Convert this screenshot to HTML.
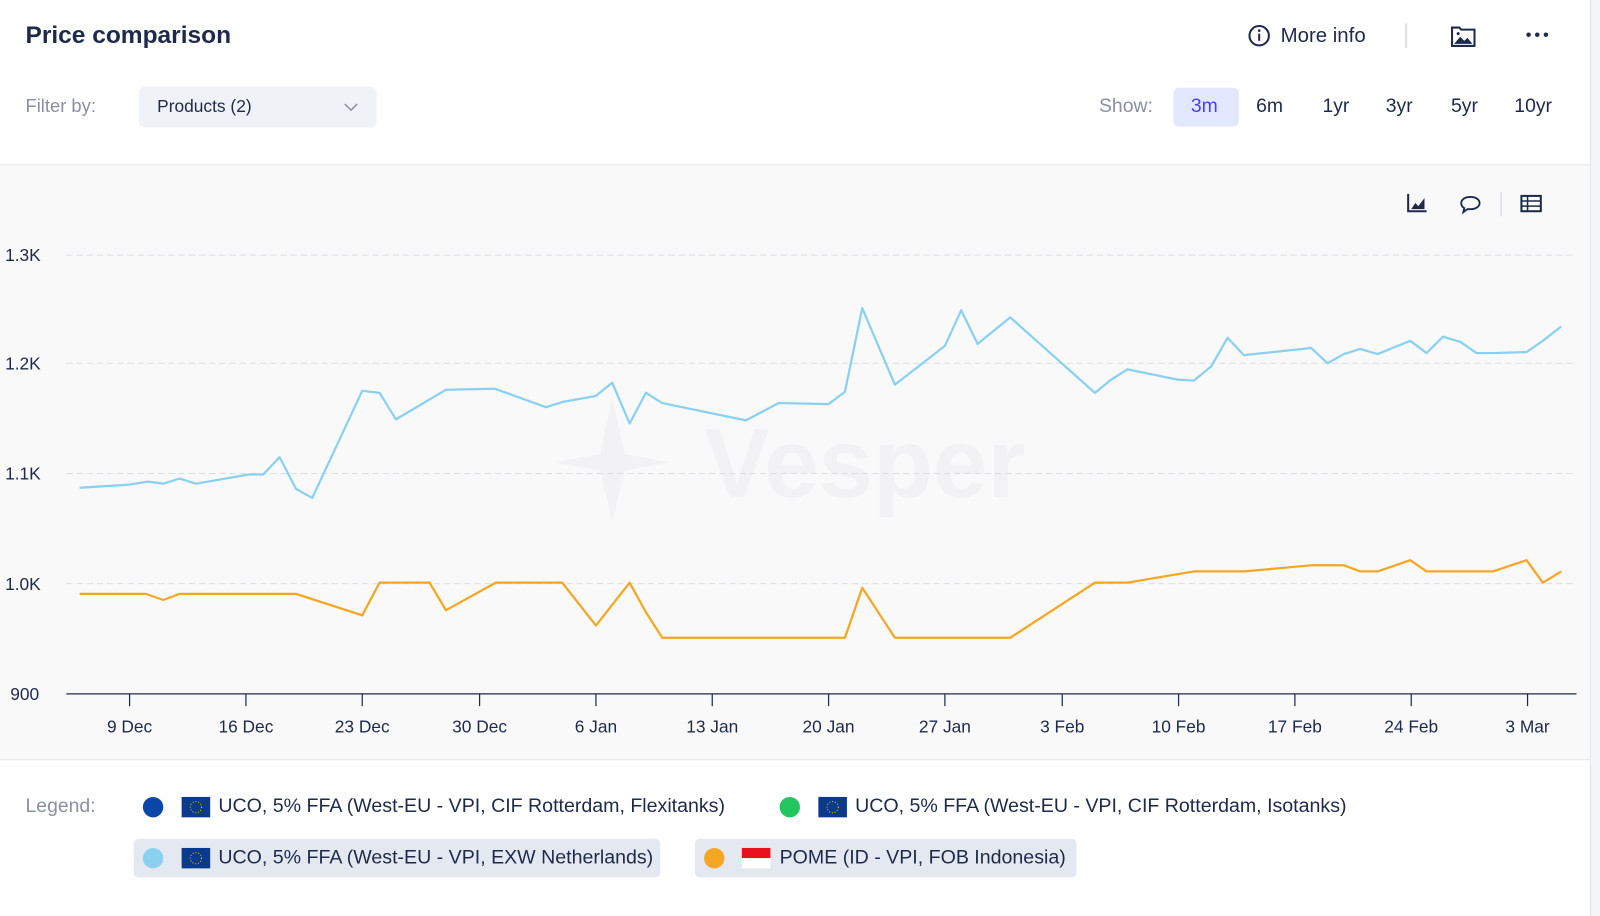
<!DOCTYPE html>
<html><head><meta charset="utf-8"><style>
*{margin:0;padding:0;box-sizing:border-box}
body{width:1600px;height:898px;background:#fff;font-family:"Liberation Sans",sans-serif;overflow:hidden;color:#1e2a4a}
#w{position:absolute;left:0;top:0;width:1568px;height:880px;transform:scale(1.020408);transform-origin:0 0}
.a{position:absolute;white-space:nowrap}
.lg{font-size:19.2px}
</style></head><body><div id="w">
<div class="a" style="left:1558px;top:0;width:42px;height:898px;background:#f4f5f7;border-left:1px solid #e3e5ea"></div>
<div class="a" style="left:25px;top:21px;font-size:24px;font-weight:bold;color:#1e2a4a">Price comparison</div>
<div class="a" style="left:25px;top:94px;font-size:18px;color:#8a90a4">Filter by:</div>
<div class="a" style="left:136px;top:85px;width:233px;height:40px;background:#eff2f7;border-radius:6px"></div>
<div class="a" style="left:154px;top:95px;font-size:17px;color:#1e2a4a">Products (2)</div>
<svg class="a" style="left:336px;top:99px" width="16" height="12"><path d="M2 3l6 6 6-6" fill="none" stroke="#8a90a4" stroke-width="1.5"/></svg>
<svg class="a" style="left:1222px;top:23px" width="24" height="24"><circle cx="12" cy="12" r="9.5" fill="none" stroke="#1e2a4a" stroke-width="2"/><rect x="11" y="10" width="2" height="7" fill="#1e2a4a"/><circle cx="12" cy="7" r="1.3" fill="#1e2a4a"/></svg>
<div class="a" style="left:1255px;top:24px;font-size:20px;color:#1e2a4a">More info</div>
<div class="a" style="left:1377px;top:23px;width:2px;height:24px;background:#dcdfe5"></div>
<svg class="a" style="left:1421px;top:23px" width="26" height="24"><path d="M2 4h7l2 2h13v16H2z" fill="none" stroke="#1e2a4a" stroke-width="2"/><path d="M4 20l6-7 4 4 3-3 5 6z" fill="#1e2a4a"/><circle cx="8" cy="10" r="1.5" fill="#1e2a4a"/></svg>
<svg class="a" style="left:1494px;top:29px" width="26" height="10"><circle cx="4" cy="5" r="2.2" fill="#1e2a4a"/><circle cx="12.5" cy="5" r="2.2" fill="#1e2a4a"/><circle cx="21" cy="5" r="2.2" fill="#1e2a4a"/></svg>
<div class="a" style="left:1077px;top:94px;font-size:19px;color:#8a90a4">Show:</div>
<div class="a" style="left:1150px;top:86px;width:64px;height:38px;background:#e2e8ff;border-radius:5px"></div>
<div class="a" style="left:1167px;top:94px;font-size:19px;color:#4a3df5">3m</div>
<div class="a" style="left:1231px;top:94px;font-size:19px">6m</div>
<div class="a" style="left:1296px;top:94px;font-size:19px">1yr</div>
<div class="a" style="left:1358px;top:94px;font-size:19px">3yr</div>
<div class="a" style="left:1422px;top:94px;font-size:19px">5yr</div>
<div class="a" style="left:1484px;top:94px;font-size:19px">10yr</div>
<div class="a" style="left:0;top:161px;width:1558px;height:584px;background:#f9f9fa;border-top:1px solid #e3e5ea;border-bottom:1px solid #e3e5ea"></div>
<svg class="a" style="left:0;top:0" width="1558" height="898">
<g stroke="#1e2a4a" fill="#1e2a4a">
<path d="M1380 190v17h18" fill="none" stroke-width="2"/><path d="M1383 205l4-6 3 3 6-8v11z" stroke="none"/>
<path d="M1441 193c6 0 9 3 9 6s-3 6-9 6c-1 0-2 0-3 0l-4 3 1-4c-2-1-3-3-3-5 0-3 3-6 9-6z" fill="none" stroke-width="1.8"/>
<rect x="1491" y="192" width="19" height="15" fill="none" stroke-width="2"/><path d="M1491 197h19M1491 202h19M1497 192v15" stroke-width="1.5"/>
</g>
<line x1="1471" y1="188" x2="1471" y2="212" stroke="#dcdfe5" stroke-width="1.5"/>
<path d="M600 390l12 55 45 8-45 8-12 50-12-50-45-8 45-8z" fill="#f2f2f4"/>
<text x="1005" y="487" font-size="96" font-weight="bold" fill="#f2f2f4" text-anchor="end" font-family="Liberation Sans">Vesper</text>
<g stroke="#dcdde2" stroke-dasharray="6 4" stroke-width="1">
<line x1="65" y1="250" x2="1545" y2="250"/><line x1="65" y1="356" x2="1545" y2="356"/><line x1="65" y1="464" x2="1545" y2="464"/><line x1="65" y1="572" x2="1545" y2="572"/></g>
<line x1="65" y1="680" x2="1545" y2="680" stroke="#1e2a4a" stroke-width="1.2"/>
<g font-size="17" fill="#1e2a4a" font-family="Liberation Sans">
<text x="5" y="256">1.3K</text><text x="5" y="362">1.2K</text><text x="5" y="470">1.1K</text><text x="5" y="578">1.0K</text><text x="10" y="686">900</text>
</g>
<g stroke="#1e2a4a" stroke-width="1.2">
<line x1="127" y1="680" x2="127" y2="692"/><line x1="241" y1="680" x2="241" y2="692"/><line x1="355" y1="680" x2="355" y2="692"/><line x1="470" y1="680" x2="470" y2="692"/><line x1="584" y1="680" x2="584" y2="692"/><line x1="698" y1="680" x2="698" y2="692"/><line x1="812" y1="680" x2="812" y2="692"/><line x1="926" y1="680" x2="926" y2="692"/><line x1="1041" y1="680" x2="1041" y2="692"/><line x1="1155" y1="680" x2="1155" y2="692"/><line x1="1269" y1="680" x2="1269" y2="692"/><line x1="1383" y1="680" x2="1383" y2="692"/><line x1="1497" y1="680" x2="1497" y2="692"/>
</g>
<g font-size="17" fill="#1e2a4a" text-anchor="middle" font-family="Liberation Sans">
<text x="127" y="718">9 Dec</text><text x="241" y="718">16 Dec</text><text x="355" y="718">23 Dec</text><text x="470" y="718">30 Dec</text><text x="584" y="718">6 Jan</text><text x="698" y="718">13 Jan</text><text x="812" y="718">20 Jan</text><text x="926" y="718">27 Jan</text><text x="1041" y="718">3 Feb</text><text x="1155" y="718">10 Feb</text><text x="1269" y="718">17 Feb</text><text x="1383" y="718">24 Feb</text><text x="1497" y="718">3 Mar</text>
</g>
<polyline fill="none" stroke="#8ad0f0" stroke-width="2.2" stroke-linejoin="round" points="78,478 126,475 145,472 160,474 176,469 192,474 244,465 258,465 274,448 290,479 306,488 355,383 372,385 388,411 437,382 485,381 535,399 551,394 584,388 600,375 617,415 633,385 649,395 731,412 763,395 812,396 828,384 845,302 877,377 926,339 942,304 958,337 990,311 1073,385 1089,372 1105,362 1154,372 1170,373 1187,359 1203,331 1219,348 1285,341 1301,356 1317,347 1333,342 1350,347 1382,334 1398,346 1414,330 1431,335 1447,346 1463,346 1496,345 1512,334 1530,320"/>
<polyline fill="none" stroke="#f5a623" stroke-width="2.2" stroke-linejoin="round" points="78,582 143,582 160,588 176,582 290,582 355,603 372,571 421,571 437,598 486,571 551,571 584,613 617,571 633,600 649,625 828,625 845,576 877,625 990,625 1073,571 1105,571 1170,560 1219,560 1285,554 1317,554 1333,560 1350,560 1382,549 1398,560 1463,560 1496,549 1512,571 1530,560"/>
</svg>
<div class="a" style="left:25px;top:780px;font-size:19px;color:#8a90a4">Legend:</div>
<div class="a" style="left:131px;top:822px;width:516px;height:38px;background:#e3e8f1;border-radius:5px"></div>
<div class="a" style="left:681px;top:822px;width:374px;height:38px;background:#e3e8f1;border-radius:5px"></div>
<svg class="a" style="left:0;top:770px" width="1400" height="100">
<circle cx="150" cy="21" r="10" fill="#0a47a9"/><circle cx="774" cy="21" r="10" fill="#22c55e"/>
<circle cx="150" cy="71" r="10" fill="#8ad0f0"/><circle cx="700" cy="71" r="10" fill="#f5a623"/>
<rect x="178" y="11" width="28" height="20" fill="#0b3a8c"/><circle cx="192" cy="21" r="5.5" fill="none" stroke="#f5c400" stroke-dasharray="1 1.8"/>
<rect x="802" y="11" width="28" height="20" fill="#0b3a8c"/><circle cx="816" cy="21" r="5.5" fill="none" stroke="#f5c400" stroke-dasharray="1 1.8"/>
<rect x="178" y="61" width="28" height="20" fill="#0b3a8c"/><circle cx="192" cy="71" r="5.5" fill="none" stroke="#f5c400" stroke-dasharray="1 1.8"/>
<rect x="727" y="61" width="28" height="10" fill="#e8121e"/><rect x="727" y="71" width="28" height="10" fill="#fff"/>
</svg>
<div class="a lg" style="left:214px;top:780px">UCO, 5% FFA (West-EU - VPI, CIF Rotterdam, Flexitanks)</div>
<div class="a lg" style="left:838px;top:780px">UCO, 5% FFA (West-EU - VPI, CIF Rotterdam, Isotanks)</div>
<div class="a lg" style="left:214px;top:830px">UCO, 5% FFA (West-EU - VPI, EXW Netherlands)</div>
<div class="a lg" style="left:764px;top:830px">POME (ID - VPI, FOB Indonesia)</div>
</div></body></html>
